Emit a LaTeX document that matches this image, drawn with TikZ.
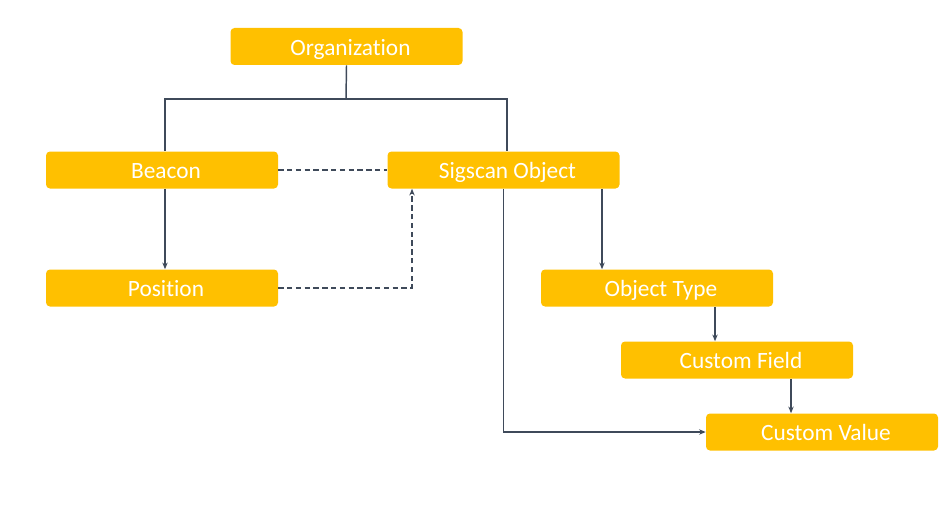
\documentclass[tikz,border=0pt]{standalone}
\usepackage{fontspec}
\setmainfont{Carlito}[Ligatures=NoCommon]
\usetikzlibrary{arrows.meta,calc}
\definecolor{boxyellow}{HTML}{FFC000}
\definecolor{linegray}{HTML}{3F4A5A}
\begin{document}
\begin{tikzpicture}[x=0.75pt,y=-0.75pt,
  entity/.style={fill=boxyellow,draw=none,rounded corners=3pt,minimum width=174pt,minimum height=27.75pt,inner sep=0pt,text=white,text height=12.8pt,text depth=0pt,font=\fontsize{17.5}{20}\selectfont,execute at begin node={\hspace*{6pt}}},
  conn/.style={draw=linegray,line width=1.1pt},
  arr/.style={conn,-{Stealth[length=5pt,width=4pt]}},
  dashline/.style={conn,dash pattern=on 4pt off 2.6pt}]
\useasboundingbox (0,0) rectangle (944,531);
\node[entity] (org) at (346.5,46.5) {Organization};
\node[entity] (beacon) at (162,170) {Beacon};
\node[entity] (sig) at (503.5,170) {Sigscan Object};
\node[entity] (pos) at (162,288) {Position};
\node[entity] (ot) at (657,288) {Object Type};
\node[entity] (cf) at (737,360) {Custom Field};
\node[entity] (cv) at (822,432) {Custom Value};
\coordinate (bus) at (346,99);
\draw[conn] (org.south) -- (bus);
\draw[conn] ($(beacon.north)+(3,0)$) |- (bus) -| ($(sig.north)+(3.5,0)$);
\draw[dashline] (beacon.east) -- (sig.west);
\draw[arr] ($(beacon.south)+(3,0)$) -- ($(pos.north)+(3,0)$);
\draw[dashline,-{Stealth[length=5pt,width=4pt]}] (pos.east) -| ($(sig.south)+(-91.5,0)$);
\draw[arr] ($(sig.south)+(98.5,0)$) -- ($(ot.north)+(-55,0)$);
\draw[arr] (sig.south) |- (cv.west);
\draw[arr] ($(ot.south)+(58,0)$) -- ($(cf.north)+(-22,0)$);
\draw[arr] ($(cf.south)+(54,0)$) -- ($(cv.north)+(-31,0)$);
\end{tikzpicture}
\end{document}
